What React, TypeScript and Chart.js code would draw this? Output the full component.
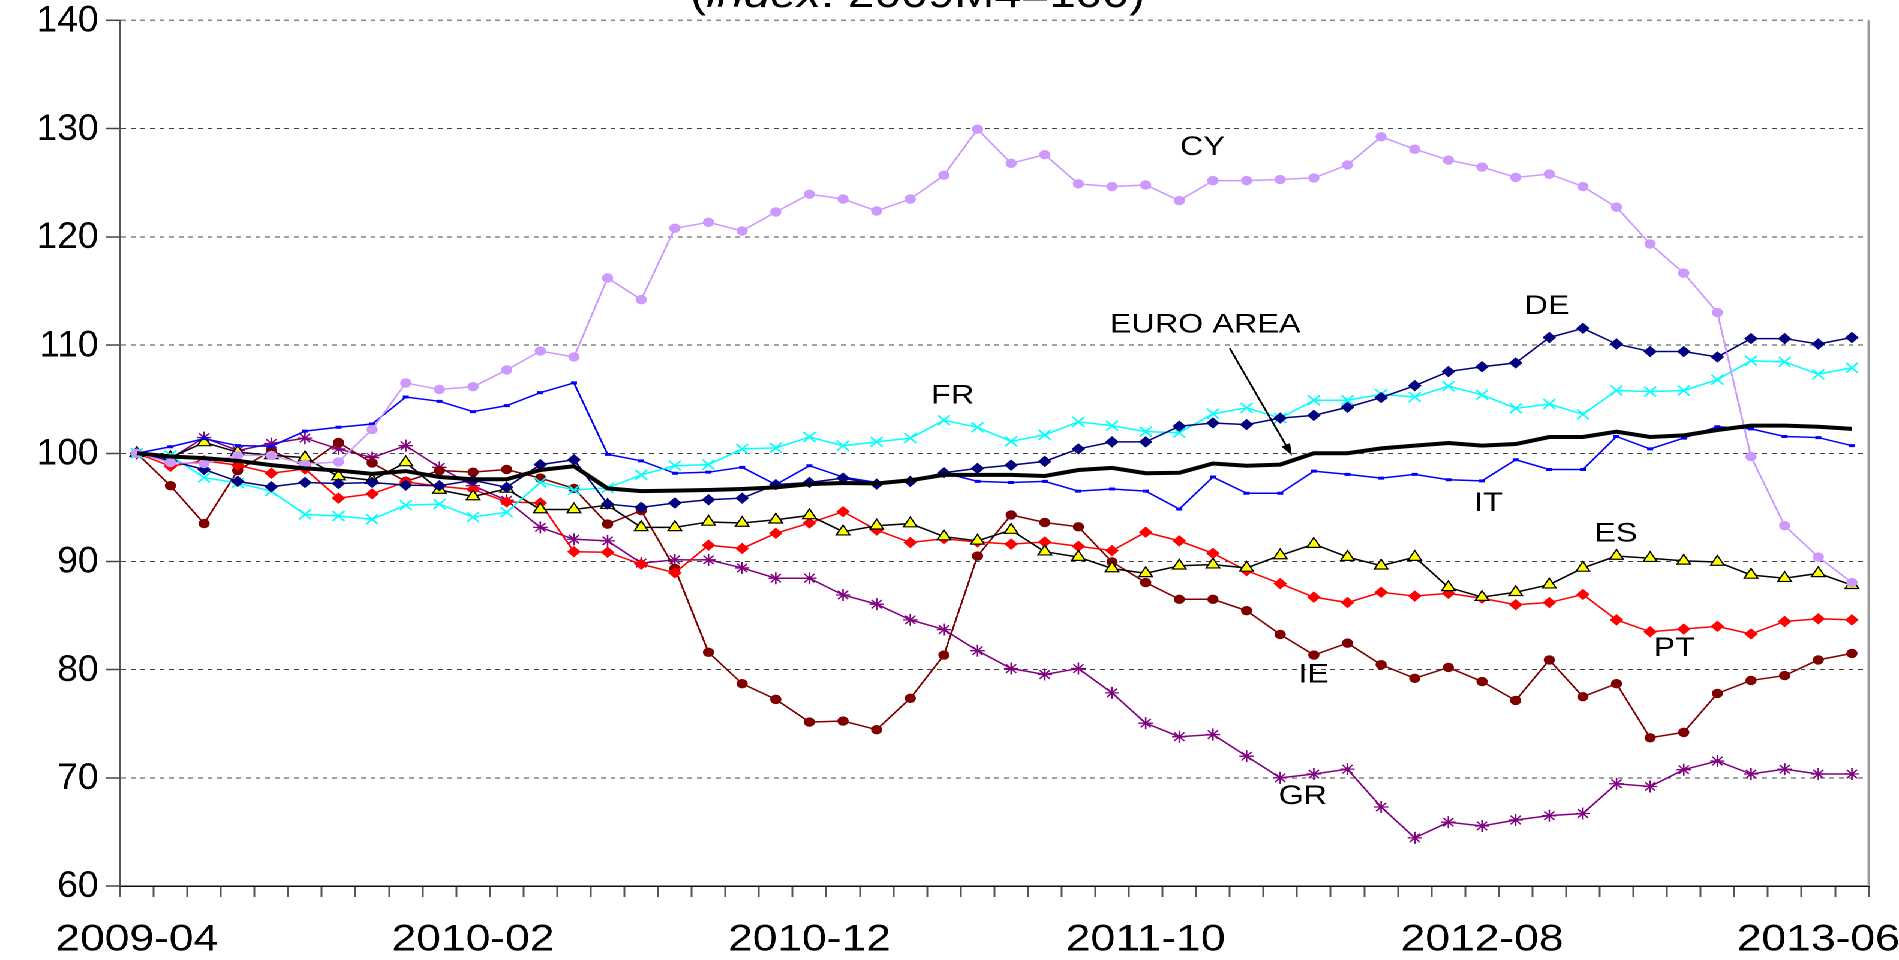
import React, { useEffect, useRef } from 'react';
import { Chart, registerables } from 'chart.js';

Chart.register(...registerables);

// ---------- categories & tick labels ----------
const MONTHS = [
  '2009-04', '2009-05', '2009-06', '2009-07', '2009-08', '2009-09', '2009-10', '2009-11', '2009-12',
  '2010-01', '2010-02', '2010-03', '2010-04', '2010-05', '2010-06', '2010-07', '2010-08', '2010-09', '2010-10', '2010-11', '2010-12',
  '2011-01', '2011-02', '2011-03', '2011-04', '2011-05', '2011-06', '2011-07', '2011-08', '2011-09', '2011-10', '2011-11', '2011-12',
  '2012-01', '2012-02', '2012-03', '2012-04', '2012-05', '2012-06', '2012-07', '2012-08', '2012-09', '2012-10', '2012-11', '2012-12',
  '2013-01', '2013-02', '2013-03', '2013-04', '2013-05', '2013-06', '2013-07',
];
const TICK_LABELS = ['2009-04', '2010-02', '2010-12', '2011-10', '2012-08', '2013-06'];
const Y_TICKS = [60, 70, 80, 90, 100, 110, 120, 130, 140];

// ---------- series (index: 2009M4 = 100) ----------
const EURO_AREA = [100, 99.7, 99.55, 99.3, 98.9, 98.6, 98.4, 98.1, 98.35, 97.8, 97.6, 97.6, 98.45, 98.8, 96.75, 96.5, 96.55, 96.6, 96.7, 96.85, 97.15, 97.25, 97.2, 97.5, 98.0, 98.0, 98.0, 97.9, 98.45, 98.65, 98.15, 98.2, 99.05, 98.85, 98.95, 100.0, 100.0, 100.45, 100.7, 100.95, 100.7, 100.85, 101.5, 101.5, 102.0, 101.5, 101.65, 102.15, 102.55, 102.55, 102.45, 102.25];
const CY = [100, 99.15, 99.05, 99.8, 99.8, 99.0, 99.2, 102.2, 106.5, 105.9, 106.15, 107.7, 109.45, 108.9, 116.2, 114.2, 120.8, 121.35, 120.55, 122.3, 123.95, 123.5, 122.4, 123.5, 125.7, 129.95, 126.8, 127.6, 124.9, 124.65, 124.8, 123.35, 125.2, 125.2, 125.3, 125.45, 126.65, 129.25, 128.1, 127.1, 126.45, 125.5, 125.8, 124.65, 122.75, 119.35, 116.65, 113.0, 99.7, 93.3, 90.4, 88.05];
const DE = [100, 99.3, 98.5, 97.4, 96.9, 97.3, 97.2, 97.3, 97.05, 97.0, 97.5, 96.85, 98.95, 99.4, 95.3, 95.0, 95.4, 95.7, 95.85, 97.1, 97.3, 97.7, 97.15, 97.4, 98.2, 98.6, 98.9, 99.25, 100.4, 101.05, 101.05, 102.5, 102.8, 102.65, 103.25, 103.5, 104.25, 105.15, 106.25, 107.55, 108.0, 108.35, 110.7, 111.55, 110.1, 109.4, 109.4, 108.9, 110.6, 110.6, 110.1, 110.7];
const FR = [100, 99.8, 97.75, 97.25, 96.5, 94.35, 94.2, 93.9, 95.2, 95.3, 94.1, 94.55, 97.3, 96.6, 96.8, 98.0, 98.85, 98.95, 100.4, 100.5, 101.5, 100.7, 101.05, 101.4, 103.05, 102.4, 101.1, 101.7, 102.9, 102.55, 102.0, 101.9, 103.65, 104.2, 103.25, 104.9, 104.9, 105.45, 105.2, 106.2, 105.4, 104.15, 104.55, 103.6, 105.8, 105.7, 105.8, 106.8, 108.55, 108.45, 107.3, 107.9];
const IT = [100, 100.6, 101.35, 100.7, 100.65, 102.05, 102.4, 102.7, 105.2, 104.8, 103.85, 104.4, 105.6, 106.5, 99.9, 99.3, 98.15, 98.25, 98.7, 97.1, 98.85, 97.8, 97.3, 97.5, 98.2, 97.4, 97.3, 97.4, 96.5, 96.7, 96.5, 94.85, 97.8, 96.3, 96.3, 98.35, 98.05, 97.7, 98.05, 97.55, 97.45, 99.4, 98.5, 98.5, 101.55, 100.4, 101.4, 102.45, 102.25, 101.55, 101.45, 100.7];
const ES = [100, 99.6, 101.0, 100.1, 99.8, 99.6, 97.85, 97.5, 99.15, 96.6, 96.0, 96.7, 94.8, 94.8, 95.2, 93.15, 93.15, 93.65, 93.55, 93.85, 94.25, 92.75, 93.3, 93.5, 92.3, 91.9, 92.9, 90.9, 90.4, 89.35, 88.9, 89.6, 89.7, 89.4, 90.55, 91.6, 90.4, 89.6, 90.4, 87.6, 86.7, 87.15, 87.85, 89.4, 90.5, 90.3, 90.05, 89.95, 88.75, 88.45, 88.9, 87.8];
const PT = [100, 98.8, 99.3, 98.9, 98.15, 98.55, 95.85, 96.25, 97.35, 96.95, 96.65, 95.5, 95.4, 90.9, 90.85, 89.75, 88.95, 91.5, 91.2, 92.6, 93.55, 94.6, 92.9, 91.75, 92.1, 91.8, 91.6, 91.8, 91.4, 91.0, 92.7, 91.9, 90.75, 89.15, 87.95, 86.7, 86.2, 87.15, 86.8, 87.05, 86.6, 86.0, 86.2, 86.95, 84.6, 83.5, 83.75, 84.0, 83.3, 84.45, 84.7, 84.6];
const IE = [100, 97.0, 93.5, 98.4, 100.25, 98.8, 101.0, 99.1, 97.4, 98.4, 98.25, 98.5, 97.7, 96.75, 93.45, 94.7, 89.35, 81.6, 78.7, 77.25, 75.15, 75.25, 74.45, 77.35, 81.35, 90.5, 94.3, 93.6, 93.2, 89.95, 88.05, 86.5, 86.5, 85.45, 83.25, 81.35, 82.45, 80.45, 79.2, 80.2, 78.9, 77.15, 80.9, 77.5, 78.7, 73.7, 74.2, 77.8, 79.0, 79.45, 80.9, 81.5];
const GR = [100, 99.5, 101.45, 100.25, 100.9, 101.4, 100.4, 99.6, 100.7, 98.7, 97.0, 95.65, 93.15, 92.05, 91.9, 89.85, 90.15, 90.15, 89.4, 88.45, 88.45, 86.9, 86.05, 84.6, 83.7, 81.75, 80.1, 79.55, 80.1, 77.85, 75.05, 73.8, 74.0, 72.0, 70.0, 70.35, 70.8, 67.3, 64.45, 65.9, 65.55, 66.1, 66.5, 66.7, 69.45, 69.2, 70.75, 71.55, 70.35, 70.8, 70.35, 70.35];

// ---------- in-chart labels (data coordinates: category index, index value) ----------
const SERIES_LABELS = [
  { text: 'CY', x: 31.69, y: 128.25 },
  { text: 'EURO AREA', x: 31.77, y: 111.85 },
  { text: 'FR', x: 24.26, y: 105.3 },
  { text: 'DE', x: 41.93, y: 113.55 },
  { text: 'IT', x: 40.19, y: 95.35 },
  { text: 'ES', x: 43.98, y: 92.55 },
  { text: 'PT', x: 45.72, y: 81.95 },
  { text: 'IE', x: 34.99, y: 79.5 },
  { text: 'GR', x: 34.67, y: 68.25 },
];
const ARROW_FROM = { x: 32.5, y: 109.7 };
const ARROW_TO = { x: 34.35, y: 99.78 };
const TITLE_PARTS = [
  { text: '(', italic: false },
  { text: 'index', italic: true },
  { text: ': 2009M4=100)', italic: false },
];

// ---------- layout ----------
const OUT_W = 1899;
const H = 960;
const BASE_W = 1583;
const STRETCH = OUT_W / BASE_W;
const Y_LABEL_STRETCH = 1.0;
const FONT = '"Liberation Sans", Arial, Helvetica, sans-serif';

function series(label: string, data: number[], color: string, extra: any = {}) {
  return {
    label,
    data,
    borderColor: color,
    backgroundColor: color,
    borderWidth: 1.5,
    pointRadius: 4,
    pointBorderWidth: 1,
    pointBackgroundColor: color,
    pointBorderColor: color,
    tension: 0,
    fill: false,
    ...extra,
  };
}

const decorPlugin = {
  id: 'decor',
  afterDatasetsDraw(chart: any) {
    const { ctx, chartArea, scales } = chart;
    const xs = scales.x;
    const ys = scales.y;
    ctx.save();

    // right border of plot area
    ctx.strokeStyle = '#999999';
    ctx.lineWidth = 2;
    ctx.setLineDash([]);
    ctx.beginPath();
    ctx.moveTo(chartArea.right, chartArea.top);
    ctx.lineTo(chartArea.right, chartArea.bottom);
    ctx.stroke();

    // y-axis tick labels
    ctx.fillStyle = '#000000';
    ctx.font = `37px ${FONT}`;
    ctx.textAlign = 'right';
    ctx.textBaseline = 'middle';
    for (const v of Y_TICKS) {
      ctx.save();
      ctx.translate(chartArea.left - 18, ys.getPixelForValue(v));
      ctx.scale(Y_LABEL_STRETCH / STRETCH, 1);
      ctx.fillText(String(v), 0, 1);
      ctx.restore();
    }

    // series labels
    ctx.font = `27px ${FONT}`;
    ctx.textAlign = 'center';
    ctx.textBaseline = 'middle';
    for (const l of SERIES_LABELS) {
      ctx.fillText(l.text, xs.getPixelForValue(l.x), ys.getPixelForValue(l.y));
    }

    // arrow for EURO AREA
    const x1 = xs.getPixelForValue(ARROW_FROM.x);
    const y1 = ys.getPixelForValue(ARROW_FROM.y);
    const x2 = xs.getPixelForValue(ARROW_TO.x);
    const y2 = ys.getPixelForValue(ARROW_TO.y);
    const ang = Math.atan2(y2 - y1, x2 - x1);
    const head = 12;
    const hw = 4;
    ctx.strokeStyle = '#000000';
    ctx.lineWidth = 1.6;
    ctx.beginPath();
    ctx.moveTo(x1, y1);
    ctx.lineTo(x2 - Math.cos(ang) * head * 0.8, y2 - Math.sin(ang) * head * 0.8);
    ctx.stroke();
    ctx.beginPath();
    ctx.moveTo(x2, y2);
    ctx.lineTo(x2 - Math.cos(ang) * head - Math.sin(ang) * hw, y2 - Math.sin(ang) * head + Math.cos(ang) * hw);
    ctx.lineTo(x2 - Math.cos(ang) * head + Math.sin(ang) * hw, y2 - Math.sin(ang) * head - Math.cos(ang) * hw);
    ctx.closePath();
    ctx.fill();

    // title (mostly cut off above the canvas, as in the original)
    ctx.textAlign = 'left';
    ctx.textBaseline = 'alphabetic';
    let total = 0;
    for (const p of TITLE_PARTS) {
      ctx.font = `${p.italic ? 'italic ' : ''}40px ${FONT}`;
      total += ctx.measureText(p.text).width;
    }
    let tx = 765 - total / 2;
    for (const p of TITLE_PARTS) {
      ctx.font = `${p.italic ? 'italic ' : ''}40px ${FONT}`;
      ctx.fillText(p.text, tx, 7);
      tx += ctx.measureText(p.text).width;
    }
    ctx.restore();
  },
};

export default function App() {
  const canvasRef = useRef<HTMLCanvasElement | null>(null);

  useEffect(() => {
    const canvas = canvasRef.current;
    if (!canvas) return;
    const chart = new Chart(canvas, {
      type: 'line',
      data: {
        labels: MONTHS,
        datasets: [
          series('EURO AREA', EURO_AREA, '#000000', { borderWidth: 4, pointRadius: 0 }),
          series('CY', CY, '#CC99FF', { pointStyle: 'circle', pointRadius: 4.2 }),
          series('DE', DE, '#000080', { pointStyle: 'rectRot', pointRadius: 5 }),
          series('FR', FR, '#00FFFF', { pointStyle: 'crossRot', pointRadius: 7, pointBorderWidth: 1.5 }),
          series('IT', IT, '#0000FF', { pointStyle: 'line', pointRadius: 2.5, pointBorderWidth: 3 }),
          series('ES', ES, '#000000', {
            pointStyle: 'triangle',
            pointRadius: 6.5,
            pointBackgroundColor: '#FFFF00',
            pointBorderColor: '#000000',
            pointBorderWidth: 1.2,
          }),
          series('PT', PT, '#FF0000', { pointStyle: 'rectRot', pointRadius: 5 }),
          series('IE', IE, '#800000', { pointStyle: 'circle', pointRadius: 4.2 }),
          series('GR', GR, '#800080', { pointStyle: 'star', pointRadius: 6, pointBorderWidth: 1.3 }),
        ],
      },
      options: {
        responsive: false,
        maintainAspectRatio: false,
        animation: false,
        devicePixelRatio: 2,
        events: [],
        layout: { padding: { top: 20.5, right: 25.2, bottom: 0, left: 0 } },
        plugins: {
          legend: { display: false },
          tooltip: { enabled: false },
          title: { display: false },
        },
        scales: {
          x: {
            type: 'category',
            offset: true,
            grid: {
              offset: true,
              drawOnChartArea: false,
              drawTicks: true,
              tickLength: 11,
              tickColor: '#555555',
              tickWidth: 1.5,
            },
            border: { display: true, color: '#111111', width: 1.5 },
            ticks: {
              autoSkip: false,
              maxRotation: 0,
              minRotation: 0,
              padding: 21,
              color: '#000000',
              font: { family: FONT, size: 37 },
              callback: (_v: any, i: number) => (TICK_LABELS.includes(MONTHS[i]) ? MONTHS[i] : ''),
            },
            afterFit: (s: any) => {
              s.height = 74;
              s.paddingLeft = 0;
              s.paddingRight = 0;
            },
          },
          y: {
            type: 'linear',
            min: Y_TICKS[0],
            max: Y_TICKS[Y_TICKS.length - 1],
            afterBuildTicks: (s: any) => {
              s.ticks = Y_TICKS.map((v) => ({ value: v }));
            },
            ticks: { display: false },
            grid: {
              color: (c: any) => (c.tick && c.tick.value === 140 ? '#8a8a8a' : '#444444'),
              lineWidth: (c: any) => (c.tick && c.tick.value === 140 ? 1.6 : 1),
              drawTicks: true,
              tickLength: 12,
              tickColor: '#444444',
              tickWidth: 1.5,
            },
            border: { display: true, color: '#555555', width: 2, dash: [4, 4] },
            afterFit: (s: any) => {
              s.width = 100;
              s.paddingTop = 0;
              s.paddingBottom = 0;
            },
          },
        },
      },
      plugins: [decorPlugin],
    } as any);
    return () => {
      chart.destroy();
    };
  }, []);

  return (
    <div
      style={{
        position: 'fixed',
        left: 0,
        top: 0,
        width: BASE_W,
        height: H,
        transform: `scaleX(${STRETCH})`,
        transformOrigin: '0 0',
        background: '#ffffff',
        overflow: 'hidden',
      }}
    >
      <canvas ref={canvasRef} width={BASE_W} height={H} />
    </div>
  );
}
